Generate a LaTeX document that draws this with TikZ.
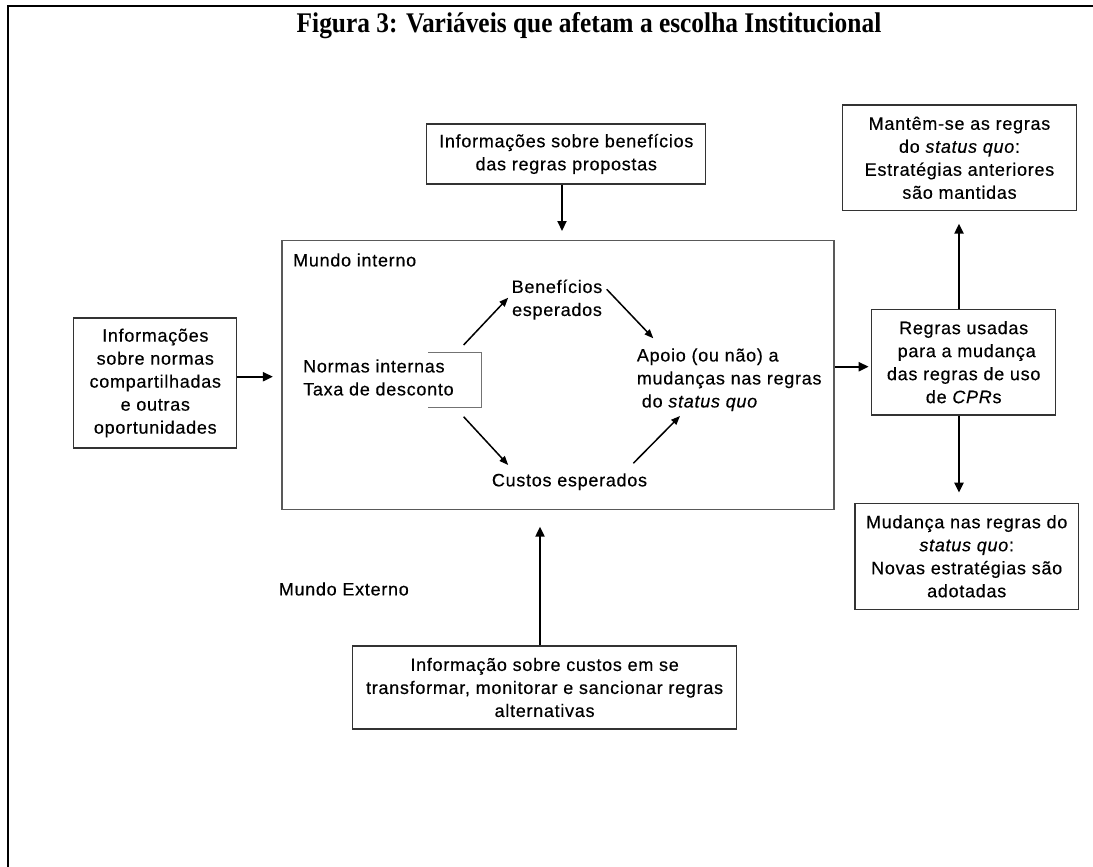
\documentclass[tikz,border=0pt]{standalone}
\usepackage{fontspec}
\setmainfont{Liberation Sans}[LetterSpace=4,FakeBold=0.4]
\newfontfamily\titlefont{Liberation Serif}
\usetikzlibrary{arrows.meta,calc}
\begin{document}
\begin{tikzpicture}[x=1pt,y=-1pt,
  txt/.style={font=\fontsize{18}{23}\selectfont, inner sep=0pt},
  box/.style={txt, draw=black!80, line width=1.3pt, align=center},
  arr/.style={line width=2.2pt, -{Triangle[length=10pt,width=9pt]}},
  iarr/.style={line width=1.5pt, -{Triangle[length=9pt,width=7pt]}}]
\useasboundingbox (0,0) rectangle (1093,867);
% outer frame (top and left only)
\draw[line width=2pt] (7.5,867) -- (7.5,6) -- (1093,6);
% title
\node[font=\titlefont\bfseries\fontsize{25.4}{30}\selectfont, inner sep=0pt, yscale=1.12] (title) at (589,26) {Figura 3: Variáveis que afetam a escolha Institucional};
% boxes
\node[box, minimum width=163pt, minimum height=130pt] (left) at (155.3,383) {Informações\\sobre normas\\compartilhadas\\e outras\\oportunidades};
\node[box, minimum width=279pt, minimum height=60pt] (top) at (566.3,154) {Informações sobre benefícios\\das regras propostas};
\node[draw=black!65, line width=1.4pt, minimum width=552pt, minimum height=268.6pt, inner sep=0pt] (main) at (558,375) {};
\node[box, minimum width=234.4pt, minimum height=105.7pt] (keep) at (959.5,157.8) {Mantêm-se as regras\\do \textit{status quo}:\\Estratégias anteriores\\são mantidas};
\node[box, minimum width=184pt, minimum height=105.7pt] (rules) at (963.7,362.2) {Regras usadas\\ \hspace*{6pt}para a mudança\\das regras de uso\\de \textit{CPR}s};
\node[box, minimum width=223.3pt, minimum height=106pt] (change) at (966.7,556.3) {Mudança nas regras do\\\textit{status quo}:\\Novas estratégias são\\adotadas};
\node[box, minimum width=384.3pt, minimum height=83pt] (costinfo) at (544.6,687.5) {Informação sobre custos em se\\transformar, monitorar e sancionar regras\\alternativas};
% free texts
\node[txt, anchor=west] (mi) at (293,260) {Mundo interno};
\node[txt, anchor=west] (me) at (278.6,589) {Mundo Externo};
\node[txt, anchor=west, align=left] (normas) at (303,377.5) {Normas internas\\Taxa de desconto};
\node[txt, align=center] (benef) at (557,299.7) {Benefícios\\esperados};
\node[txt] (custos) at (569.5,481.7) {Custos esperados};
\node[txt, anchor=west, align=left] (apoio) at (636.7,379.8) {Apoio (ou não) a\\mudanças nas regras\\\hspace*{5pt}do \textit{status quo}};
% bracket
\draw[black!55, line width=1pt] (428,352.7) -- (481,352.7) -- (481,407.3) -- (428,407.3);
% inner arrows
\coordinate (nb) at (463.6,345);
\coordinate (nc) at (463.6,416.7);
\coordinate (bt) at (508.2,297.7);
\coordinate (ct) at (508.2,465);
\coordinate (bs) at (606.7,289.3);
\coordinate (ap1) at (653.3,338.3);
\coordinate (cs) at (633.3,463.3);
\coordinate (ap2) at (680,416);
\draw[iarr] (nb) -- (bt);
\draw[iarr] (nc) -- (ct);
\draw[iarr] (bs) -- (ap1);
\draw[iarr] (cs) -- (ap2);
% outer arrows
\draw[arr, shorten >=8.4pt] ([yshift=6.3pt]left.east) -- ([yshift=6.3pt]left.east -| main.west);
\draw[arr, shorten >=9pt] ([xshift=-4.3pt]top.south) -- ([xshift=-4.3pt]top.south |- main.north);
\draw[arr, shorten >=2.4pt] ([yshift=-4.5pt]rules.west -| main.east) -- ([yshift=-4.5pt]rules.west);
\draw[arr, shorten >=12.4pt] ([xshift=-4.7pt]rules.north) -- ([xshift=-4.7pt]rules.north |- keep.south);
\draw[arr, shorten >=10pt] ([xshift=-4.7pt]rules.south) -- ([xshift=-4.7pt]rules.south |- change.north);
\draw[arr, shorten >=16.7pt] ([xshift=-4.6pt]costinfo.north) -- ([xshift=-4.6pt]costinfo.north |- main.south);
\end{tikzpicture}
\end{document}
